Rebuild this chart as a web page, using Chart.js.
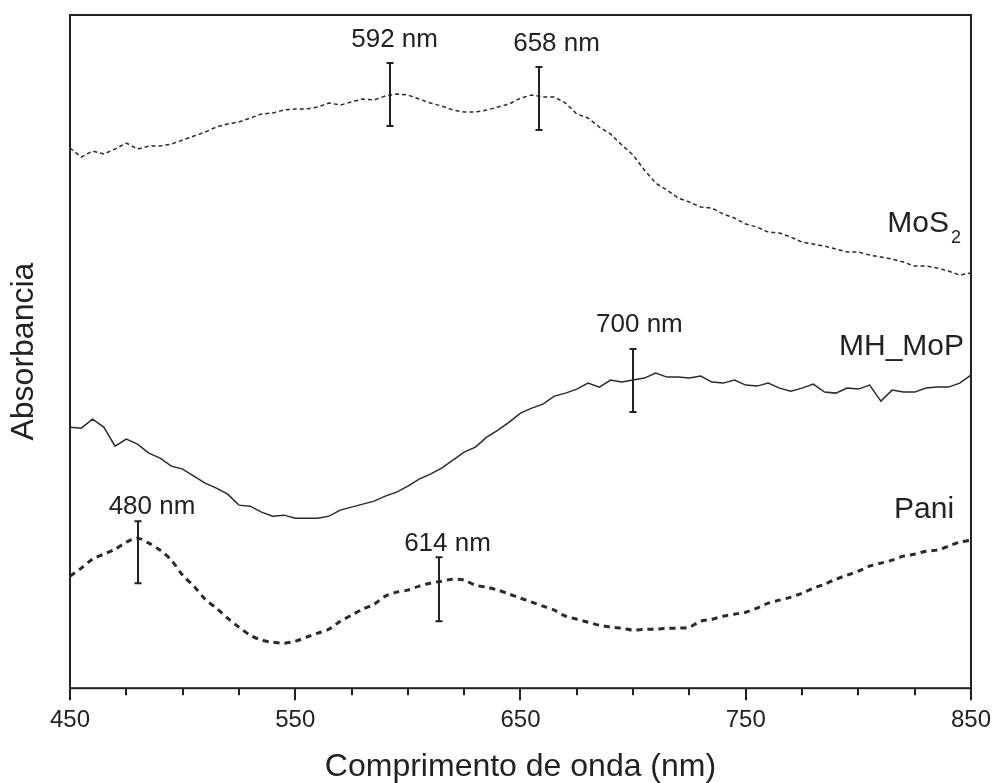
<!DOCTYPE html>
<html>
<head>
<meta charset="utf-8">
<script src="https://cdn.jsdelivr.net/npm/chart.js@4.4.1/dist/chart.umd.min.js"></script>
<style>
  html, body { margin: 0; padding: 0; background: #fff; }
  #wrap { width: 997px; height: 783px; }
</style>
</head>
<body>
<div id="wrap"><canvas id="chart" width="997" height="783"></canvas></div>
<script>
// wavelength (nm) and absorbance (a.u., curves are stacked)
const wavelength = [
  450, 455, 460, 465, 470, 475, 480, 485, 490, 495,
  500, 505, 510, 515, 520, 525, 530, 535, 540, 545,
  550, 555, 560, 565, 570, 575, 580, 585, 590, 595,
  600, 605, 610, 615, 620, 625, 630, 635, 640, 645,
  650, 655, 660, 665, 670, 675, 680, 685, 690, 695,
  700, 705, 710, 715, 720, 725, 730, 735, 740, 745,
  750, 755, 760, 765, 770, 775, 780, 785, 790, 795,
  800, 805, 810, 815, 820, 825, 830, 835, 840, 845,
  850
];

const mos2 = [
  5.40, 5.31, 5.37, 5.34, 5.39, 5.45, 5.39, 5.42, 5.42, 5.44,
  5.48, 5.52, 5.56, 5.61, 5.64, 5.66, 5.70, 5.74, 5.75, 5.78,
  5.79, 5.79, 5.81, 5.85, 5.83, 5.86, 5.89, 5.88, 5.92, 5.94,
  5.93, 5.89, 5.85, 5.82, 5.78, 5.76, 5.76, 5.78, 5.81, 5.84,
  5.90, 5.93, 5.91, 5.91, 5.85, 5.74, 5.70, 5.61, 5.54, 5.43,
  5.33, 5.18, 5.05, 4.98, 4.90, 4.86, 4.81, 4.80, 4.74, 4.70,
  4.64, 4.61, 4.56, 4.55, 4.51, 4.46, 4.44, 4.42, 4.39, 4.36,
  4.36, 4.33, 4.31, 4.29, 4.26, 4.22, 4.22, 4.20, 4.17, 4.13,
  4.15
];

const mhMop = [
  2.61, 2.60, 2.69, 2.61, 2.42, 2.49, 2.44, 2.35, 2.30, 2.22,
  2.19, 2.12, 2.05, 2.00, 1.94, 1.83, 1.82, 1.76, 1.72, 1.73,
  1.70, 1.70, 1.70, 1.72, 1.78, 1.81, 1.84, 1.87, 1.92, 1.96,
  2.02, 2.09, 2.14, 2.20, 2.28, 2.36, 2.41, 2.51, 2.58, 2.66,
  2.75, 2.80, 2.84, 2.92, 2.95, 2.99, 3.05, 3.01, 3.08, 3.06,
  3.08, 3.10, 3.15, 3.11, 3.11, 3.10, 3.12, 3.06, 3.05, 3.08,
  3.03, 3.02, 3.05, 3.00, 2.97, 3.00, 3.04, 2.96, 2.95, 3.00,
  2.99, 3.03, 2.87, 2.98, 2.96, 2.96, 3.00, 3.01, 3.01, 3.05,
  3.13
];

const pani = [
  1.12, 1.20, 1.29, 1.34, 1.39, 1.46, 1.50, 1.45, 1.38, 1.28,
  1.13, 1.02, 0.89, 0.80, 0.70, 0.61, 0.53, 0.48, 0.46, 0.45,
  0.47, 0.51, 0.55, 0.59, 0.67, 0.73, 0.79, 0.84, 0.92, 0.96,
  0.98, 1.02, 1.05, 1.07, 1.09, 1.08, 1.03, 1.01, 0.98, 0.94,
  0.90, 0.86, 0.82, 0.78, 0.72, 0.69, 0.66, 0.63, 0.61, 0.60,
  0.58, 0.59, 0.59, 0.60, 0.60, 0.61, 0.67, 0.69, 0.72, 0.74,
  0.76, 0.80, 0.85, 0.88, 0.91, 0.95, 1.00, 1.04, 1.09, 1.13,
  1.17, 1.22, 1.25, 1.28, 1.32, 1.34, 1.37, 1.38, 1.42, 1.46,
  1.48
];

const xTicks = [450, 475, 500, 525, 550, 575, 600, 625, 650, 675, 700, 725, 750, 775, 800, 825, 850];
const xLabels = [450, 550, 650, 750, 850];

// peak markers
const peakNm = [592, 658, 700, 480, 614];
const peakText = ['592 nm', '658 nm', '700 nm', '480 nm', '614 nm'];

// marker placement in data units (bar bottom, bar top, label x, label y)
const peakBar = [[5.62, 6.25], [5.58, 6.21], [2.76, 3.39], [1.05, 1.67], [0.67, 1.31]];
const peakLabelAt = [[594.1, 6.48], [666.0, 6.44], [702.8, 3.63], [486.4, 1.81], [617.6, 1.44]];

const INK = '#222';
const FONT = '"Liberation Sans", Arial, Helvetica, sans-serif';

function pts(vals) {
  return wavelength.map((w, i) => ({ x: w, y: vals[i] }));
}

const overlay = {
  id: 'overlay',
  afterDraw(chart) {
    const { ctx, chartArea: a, scales: { x, y } } = chart;
    ctx.save();
    ctx.strokeStyle = INK;
    ctx.fillStyle = INK;
    ctx.lineWidth = 2;

    // frame
    ctx.strokeRect(a.left, a.top, a.right - a.left, a.bottom - a.top);

    // ticks, outside and down
    xTicks.forEach(v => {
      const px = Math.round(x.getPixelForValue(v));
      const len = xLabels.includes(v) ? 12 : 7;
      ctx.beginPath();
      ctx.moveTo(px, a.bottom);
      ctx.lineTo(px, a.bottom + len);
      ctx.stroke();
    });

    // peak bars with small caps
    ctx.font = '26px ' + FONT;
    ctx.textAlign = 'center';
    ctx.textBaseline = 'middle';
    peakNm.forEach((nm, i) => {
      const px = Math.round(x.getPixelForValue(nm));
      const y0 = y.getPixelForValue(peakBar[i][0]);
      const y1 = y.getPixelForValue(peakBar[i][1]);
      ctx.beginPath();
      ctx.moveTo(px, y0); ctx.lineTo(px, y1);
      ctx.moveTo(px - 3.5, y0); ctx.lineTo(px + 3.5, y0);
      ctx.moveTo(px - 3.5, y1); ctx.lineTo(px + 3.5, y1);
      ctx.stroke();
      ctx.fillText(peakText[i], x.getPixelForValue(peakLabelAt[i][0]), y.getPixelForValue(peakLabelAt[i][1]));
    });

    // curve names
    ctx.font = '30px ' + FONT;
    ctx.textAlign = 'right';
    ctx.textBaseline = 'alphabetic';
    const mx = x.getPixelForValue(840.2);
    ctx.fillText('MoS', mx, y.getPixelForValue(4.56));
    ctx.font = '18px ' + FONT;
    ctx.textAlign = 'left';
    ctx.fillText('2', mx + 2, y.getPixelForValue(4.45));
    ctx.font = '30px ' + FONT;
    ctx.textAlign = 'right';
    ctx.fillText('MH_MoP', x.getPixelForValue(846.9), y.getPixelForValue(3.33));
    ctx.fillText('Pani', x.getPixelForValue(842.5), y.getPixelForValue(1.70));
    ctx.restore();
  }
};

new Chart(document.getElementById('chart'), {
  type: 'line',
  data: {
    datasets: [
      {
        label: 'MoS2',
        data: pts(mos2),
        borderColor: '#2a2a2a',
        borderWidth: 1.5,
        borderDash: [4, 3],
        pointRadius: 0,
        tension: 0
      },
      {
        label: 'MH_MoP',
        data: pts(mhMop),
        borderColor: '#2a2a2a',
        borderWidth: 1.5,
        pointRadius: 0,
        tension: 0
      },
      {
        label: 'Pani',
        data: pts(pani),
        borderColor: '#2a2a2a',
        borderWidth: 3,
        borderDash: [6, 5],
        pointRadius: 0,
        tension: 0.3
      }
    ]
  },
  options: {
    responsive: false,
    animation: false,
    devicePixelRatio: 1,
    layout: { padding: { top: 15, right: 0, bottom: 0, left: 0 } },
    plugins: {
      legend: { display: false },
      tooltip: { enabled: false }
    },
    scales: {
      x: {
        type: 'linear',
        min: 450,
        max: 850,
        afterBuildTicks: scale => { scale.ticks = xTicks.map(v => ({ value: v })); },
        ticks: {
          autoSkip: false,
          maxRotation: 0,
          padding: 6,
          color: INK,
          font: { family: FONT, size: 24 },
          callback: v => (xLabels.includes(v) ? String(v) : '')
        },
        grid: { drawOnChartArea: false, color: 'transparent', tickColor: 'transparent', tickLength: 12 },
        border: { display: false },
        title: {
          display: true,
          text: 'Comprimento de onda (nm)',
          color: INK,
          font: { family: FONT, size: 32, lineHeight: 1 },
          padding: { top: 10, bottom: 0 }
        }
      },
      y: {
        min: 0,
        max: 6.73,
        ticks: { display: false },
        grid: { display: false, drawTicks: false },
        border: { display: false },
        title: {
          display: true,
          text: 'Absorbancia',
          color: INK,
          font: { family: FONT, size: 32, lineHeight: 1.2 },
          padding: { top: 5, bottom: 26.6 }
        }
      }
    }
  },
  plugins: [overlay]
});
</script>
</body>
</html>
